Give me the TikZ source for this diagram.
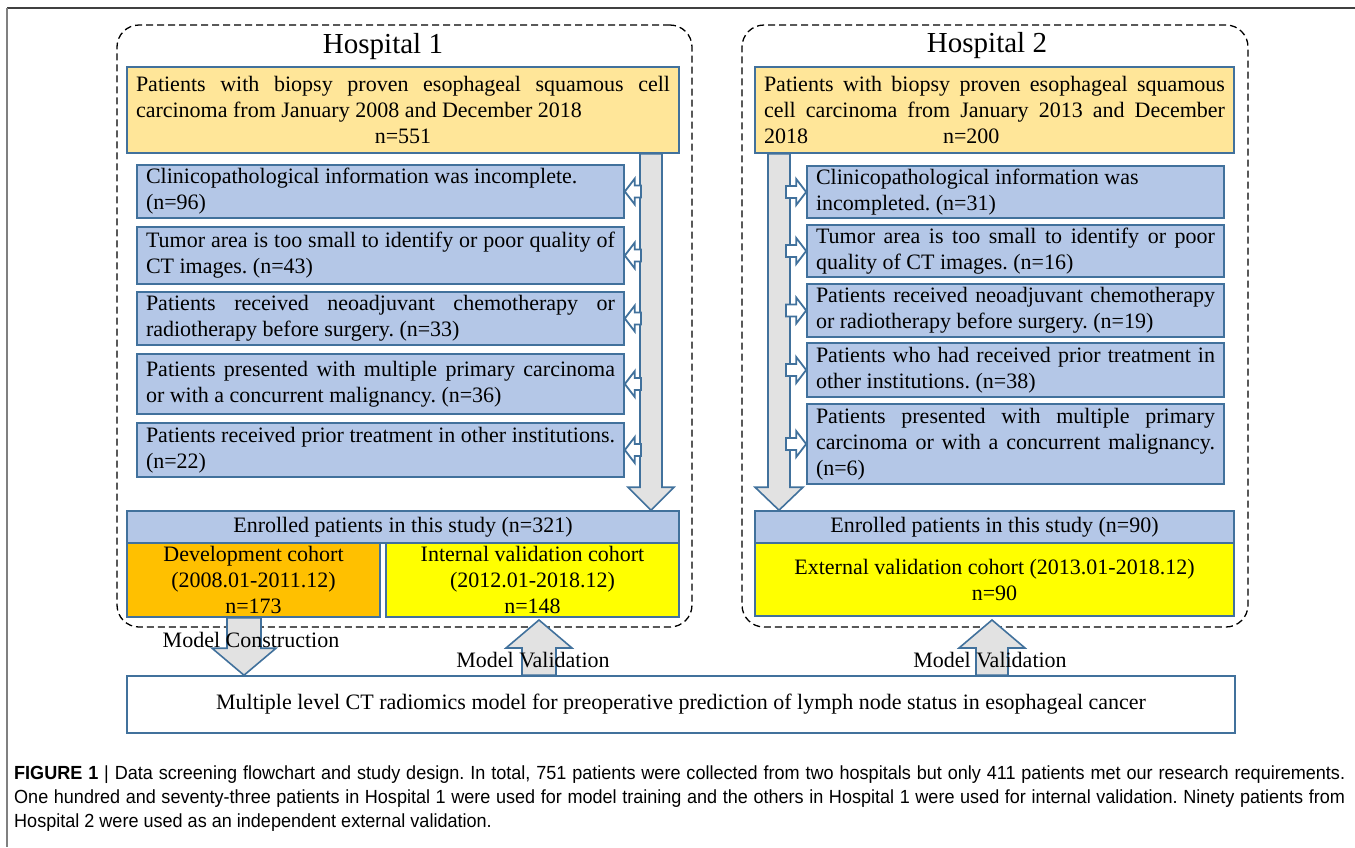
\documentclass[tikz,border=0pt]{standalone}
\usepackage{fontspec}
\setmainfont{Liberation Serif}
\newfontfamily\capfont[FakeStretch=0.95]{Liberation Sans}
\usetikzlibrary{calc}
\frenchspacing

\definecolor{bord}{RGB}{65,113,156}
\definecolor{lblue}{RGB}{180,199,231}
\definecolor{lgold}{RGB}{255,230,153}
\definecolor{dorange}{RGB}{255,192,0}
\definecolor{vyellow}{RGB}{255,255,0}
\definecolor{agray}{RGB}{226,226,226}

% block arrows: style, from, tip, shaft half-width, head half-width, head length
\newcommand{\vblock}[6]{%
  \draw[#1] ($(#2)+({-#4},0)$) -- ($(#3)+({-#4},{-(#6)})$) -- ($(#3)+({-#5},{-(#6)})$) -- (#3)
    -- ($(#3)+({#5},{-(#6)})$) -- ($(#3)+({#4},{-(#6)})$) -- ($(#2)+({#4},0)$) -- cycle;}
\newcommand{\hblock}[6]{%
  \draw[#1] ($(#2)+(0,{-#4})$) -- ($(#3)+({#6},{-#4})$) -- ($(#3)+({#6},{-#5})$) -- (#3)
    -- ($(#3)+({#6},{#5})$) -- ($(#3)+({#6},{#4})$) -- ($(#2)+(0,{#4})$) -- cycle;}

\begin{document}
\begin{tikzpicture}[x=1pt,y=-1pt,
  frameline/.style={line width=2pt, draw=black!75},
  hospframe/.style={draw, line width=1.3pt, dash pattern=on 7pt off 4pt, rounded corners=22pt},
  hosptitle/.style={font=\fontsize{29}{32}\selectfont},
  boxbase/.style={draw=bord, line width=1.6pt, inner xsep=9pt, inner ysep=0pt, align=justify, font=\fontsize{22}{26}\selectfont},
  startbox/.style={boxbase, fill=lgold},
  exbox/.style={boxbase, fill=lblue},
  enrolbox/.style={boxbase, fill=lblue, align=center},
  devbox/.style={boxbase, fill=dorange, align=center},
  valbox/.style={boxbase, fill=vyellow, align=center},
  modelbox/.style={boxbase, fill=white, align=center},
  bigarrow/.style={draw=bord, line width=1.6pt, fill=agray},
  smallarrow/.style={draw=bord, line width=1.8pt, fill=white},
  steplabel/.style={font=\fontsize{22}{26}\selectfont},
]
\useasboundingbox (0,0) rectangle (1355,847);
\draw[frameline] (7,8) -- (1355,8);
\draw[frameline, draw=black!50] (7,8) -- (7,847);

% hospital 1
\node[hospframe, minimum width=575, minimum height=602] (hosp1) at (404.5,326) {};
\node[hosptitle] (h1) at (383,47) {Hospital 1};
\node[startbox, minimum width=552, minimum height=86, text width=534] (top1) at (403,110)
  {Patients with biopsy proven esophageal squamous cell\linebreak carcinoma from January 2008 and December 2018\par\centering n=551\par};
\node[exbox, minimum width=487, minimum height=53, text width=469] (ex11) at (380.5,191.5)
  {Clinicopathological information was incomplete.\\(n=96)};
\node[exbox, minimum width=487, minimum height=57, text width=469] (ex12) at (380.5,255.5)
  {Tumor area is too small to identify or poor quality of\linebreak CT images. (n=43)};
\node[exbox, minimum width=487, minimum height=53, text width=469] (ex13) at (380.5,318.5)
  {Patients received neoadjuvant chemotherapy or\linebreak radiotherapy before surgery. (n=33)};
\node[exbox, minimum width=487, minimum height=60, text width=469] (ex14) at (380.5,384)
  {Patients presented with multiple primary carcinoma\linebreak or with a concurrent malignancy. (n=36)};
\node[exbox, minimum width=487, minimum height=54, text width=469] (ex15) at (380.5,450)
  {Patients received prior treatment in other institutions.\linebreak (n=22)};
\node[enrolbox, minimum width=552, minimum height=32] (enr1) at (403,527) {Enrolled patients in this study (n=321)};
\node[devbox, minimum width=253, minimum height=74] (dev1) at (253.5,580) {Development cohort\\(2008.01-2011.12)\\n=173};
\node[valbox, minimum width=293, minimum height=74] (int1) at (532.5,580) {Internal validation cohort\\(2012.01-2018.12)\\n=148};

% hospital 2
\node[hospframe, minimum width=506, minimum height=602] (hosp2) at (995,326) {};
\node[hosptitle] (h2) at (987,46) {Hospital 2};
\node[startbox, minimum width=479, minimum height=86, text width=461] (top2) at (994.5,110)
  {Patients with biopsy proven esophageal squamous\linebreak cell carcinoma from January 2013 and December\linebreak 2018\hspace{135pt}n=200};
\node[exbox, minimum width=417, minimum height=52, text width=399] (ex21) at (1015.5,192)
  {Clinicopathological information was\\incompleted. (n=31)};
\node[exbox, minimum width=417, minimum height=52, text width=399] (ex22) at (1015.5,251)
  {Tumor area is too small to identify or poor\linebreak quality of CT images. (n=16)};
\node[exbox, minimum width=417, minimum height=53, text width=399] (ex23) at (1015.5,310.5)
  {Patients received neoadjuvant chemotherapy\linebreak or radiotherapy before surgery. (n=19)};
\node[exbox, minimum width=417, minimum height=54, text width=399] (ex24) at (1015.5,370)
  {Patients who had received prior treatment in\linebreak other institutions. (n=38)};
\node[exbox, minimum width=417, minimum height=80, text width=399] (ex25) at (1015.5,444)
  {Patients presented with multiple primary\linebreak carcinoma or with a concurrent malignancy.\linebreak (n=6)};
\node[enrolbox, minimum width=479, minimum height=32] (enr2) at (994.5,527) {Enrolled patients in this study (n=90)};
\node[valbox, minimum width=479, minimum height=73] (ext2) at (994.5,579.5) {External validation cohort (2013.01-2018.12)\\n=90};

% model
\node[modelbox, minimum width=1108, minimum height=57] (model) at (681,704.5)
  {Multiple level CT radiomics model for preoperative prediction of lymph node status in esophageal cancer};

% screening shafts
\coordinate (s1) at (651,0 |- top1.south);
\coordinate (e1) at (651,0 |- enr1.north);
\vblock{bigarrow}{s1}{e1}{11}{23}{23}
\coordinate (s2) at (779,0 |- top2.south);
\coordinate (e2) at (779,0 |- enr2.north);
\vblock{bigarrow}{s2}{e2}{11}{24}{23}

% exclusions
\hblock{smallarrow}{641,0 |- ex11.east}{ex11.east}{6}{13}{10}
\hblock{smallarrow}{641,0 |- ex12.east}{ex12.east}{6}{13}{10}
\hblock{smallarrow}{641,0 |- ex13.east}{ex13.east}{6}{13}{10}
\hblock{smallarrow}{641,0 |- ex14.east}{ex14.east}{6}{13}{10}
\hblock{smallarrow}{641,0 |- ex15.east}{ex15.east}{6}{13}{10}
\hblock{smallarrow}{786,0 |- ex21.west}{ex21.west}{6}{13}{-10}
\hblock{smallarrow}{786,0 |- ex22.west}{ex22.west}{6}{13}{-10}
\hblock{smallarrow}{786,0 |- ex23.west}{ex23.west}{6}{13}{-10}
\hblock{smallarrow}{786,0 |- ex24.west}{ex24.west}{6}{13}{-10}
\hblock{smallarrow}{786,0 |- ex25.west}{ex25.west}{6}{13}{-10}

% construction and validation
\coordinate (c1) at (244,0 |- dev1.south);
\coordinate (c2) at (244,0 |- model.north);
\vblock{bigarrow}{c1}{c2}{17}{32}{27}
\coordinate (v1) at (539,0 |- model.north);
\coordinate (v2) at (539,620);
\vblock{bigarrow}{v1}{v2}{17}{33}{-28}
\coordinate (w1) at (992,0 |- model.north);
\coordinate (w2) at (992,620);
\vblock{bigarrow}{w1}{w2}{16}{33}{-28}
\node[steplabel] (mc) at (251,640) {Model Construction};
\node[steplabel] (mv1) at (533,660) {Model Validation};
\node[steplabel] (mv2) at (990,660) {Model Validation};

% caption
\node[anchor=north west, inner sep=0pt, text width=1331, align=justify, font=\capfont\fontsize{19}{24}\selectfont] (cap) at (14,766)
  {\textbf{FIGURE 1} | Data screening flowchart and study design. In total, 751 patients were collected from two hospitals but only 411 patients met our research requirements.\linebreak One hundred and seventy-three patients in Hospital 1 were used for model training and the others in Hospital 1 were used for internal validation. Ninety patients from\linebreak Hospital 2 were used as an independent external validation.};
\end{tikzpicture}
\end{document}
